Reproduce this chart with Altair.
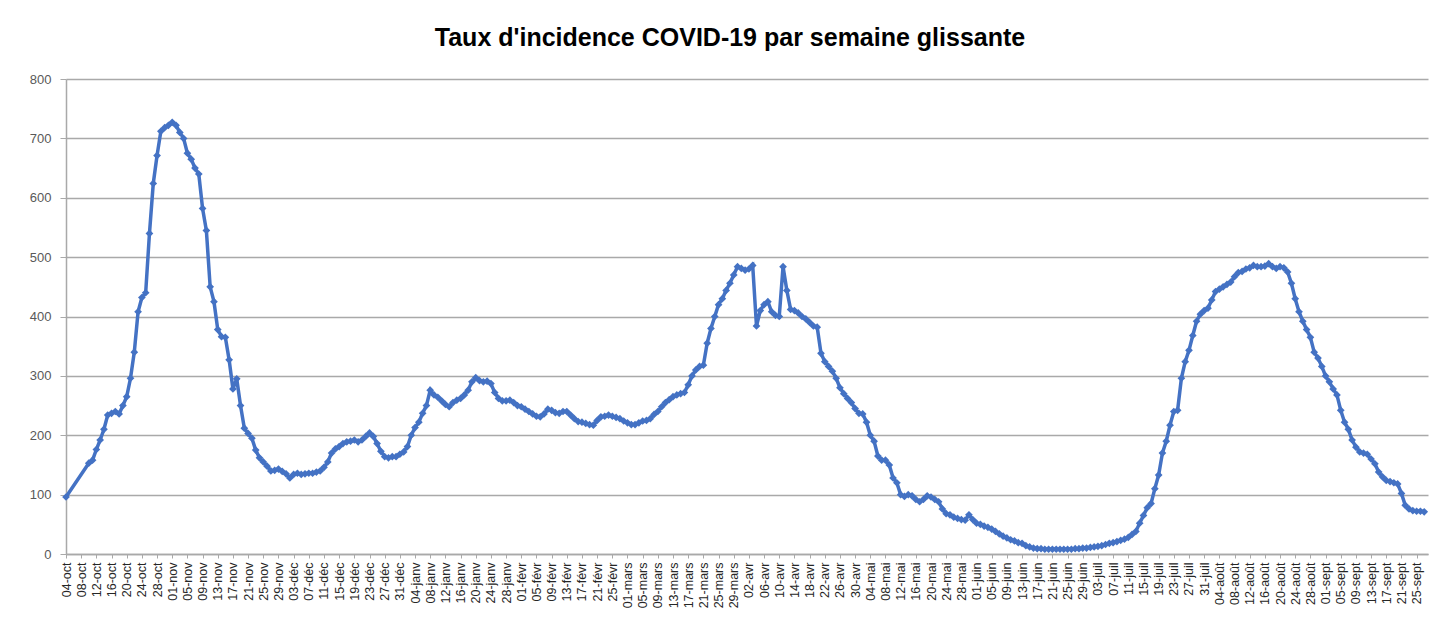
import altair as alt
import pandas as pd

start_date = "2020-10-04"
title_text = "Taux d'incidence COVID-19 par semaine glissante"
month_names = ["janv", "févr", "mars", "avr", "mai", "juin", "juil", "août", "sept", "oct", "nov", "déc"]

# daily incidence values from 04-oct (None = no reported point)
values = [
    96, None, None, None, None, None, 153, 158, 176, 192,
    210, 234, 237, 240, 236, 250, 265, 296, 340, 408,
    432, 440, 540, 624, 671, 712, 718, 722, 727, 722,
    710, 700, 675, 665, 650, 640, 582, 545, 450, 425,
    378, 366, 365, 327, 278, 295, 250, 212, 203, 195,
    175, 162, 155, 148, 140, 141, 143, 139, 135, 128,
    134, 136, 134, 135, 136, 136, 138, 140, 146, 155,
    170, 177, 181, 186, 189, 190, 192, 189, 192, 198,
    204, 198, 186, 173, 164, 162, 164, 164, 168, 172,
    181, 200, 213, 222, 237, 250, 276, 268, 264, 258,
    252, 248, 255, 259, 262, 268, 276, 290, 297, 292,
    290, 291, 287, 272, 262, 258, 258, 259, 255, 250,
    248, 244, 240, 236, 232, 231, 236, 244, 242, 238,
    237, 240, 240, 234, 228, 223, 222, 220, 218, 217,
    225, 231, 232, 234, 232, 230, 228, 224, 221, 218,
    218, 221, 224, 225, 228, 235, 240, 248, 255, 260,
    265, 268, 270, 272, 285, 300, 310, 316, 318, 355,
    380, 400, 420, 430, 444, 456, 470, 484, 481, 478,
    480, 486, 384, 410, 420, 425, 408, 402, 400, 484,
    444, 412, 410, 406, 400, 396, 390, 384, 382, 338,
    324, 316, 308, 296, 280, 270, 262, 255, 245, 237,
    236, 222, 200, 190, 165, 158, 158, 150, 128, 120,
    100, 97, 100, 98, 92, 88, 92, 98, 96, 92,
    88, 76, 68, 66, 62, 60, 58, 57, 66, 58,
    52, 50, 47, 45, 42, 38, 34, 30, 27, 24,
    22, 19, 18, 14, 12, 10, 9, 9, 8, 8,
    8, 8, 8, 8, 8, 8, 9, 9, 10, 10,
    11, 12, 13, 14, 16, 18, 19, 21, 23, 25,
    28, 33, 38, 52, 65, 78, 85, 110, 133, 170,
    190, 217, 240, 242, 296, 324, 343, 368, 392, 404,
    410, 414, 428, 442, 446, 450, 454, 458, 467, 474,
    476, 480, 482, 486, 484, 484, 485, 489, 484, 481,
    484, 482, 475, 456, 430, 408, 392, 378, 365, 340,
    330, 316, 300, 290, 278, 268, 242, 222, 210, 192,
    180, 172, 170, 168, 160, 152, 138, 130, 124, 122,
    120, 118, 102, 82, 76, 73, 72, 72, 71,
]

DAY_MS = 86400000
start = pd.Timestamp(start_date, tz="UTC")
start_ms = int(start.value // 1_000_000)

dates_ms = [start_ms + i * DAY_MS for i in range(len(values))]
df = pd.DataFrame({"t": dates_ms, "value": values}).dropna()

tick_values = [start_ms + i * DAY_MS for i in range(0, 357, 4)]
domain = [start_ms, start_ms + 359 * DAY_MS]

month_js = "[" + ",".join("'" + m + "'" for m in month_names) + "]"
label_expr = "utcFormat(datum.value, '%d') + '-' + " + month_js + "[utcmonth(datum.value)]"

blue = "#4472C4"
grid_gray = "#a9a9a9"

chart = (
    alt.Chart(df)
    .mark_line(
        color=blue,
        strokeWidth=3.5,
        point=alt.OverlayMarkDef(shape="diamond", size=60, filled=True, color=blue),
    )
    .encode(
        x=alt.X(
            "t:T",
            scale=alt.Scale(type="utc", domain=domain),
            axis=alt.Axis(
                title=None,
                values=tick_values,
                labelExpr=label_expr,
                labelAngle=270,
                labelAlign="right",
                labelBaseline="middle",
                labelFontSize=12.5,
                labelColor="#262626",
                labelFont="Liberation Sans",
                labelPadding=4,
                labelOverlap=False,
                labelBound=False,
                labelFlush=False,
                tickSize=4,
                tickColor=grid_gray,
                domainColor=grid_gray,
                domainWidth=1.5,
                grid=False,
            ),
        ),
        y=alt.Y(
            "value:Q",
            scale=alt.Scale(domain=[0, 800], nice=False),
            axis=alt.Axis(
                title=None,
                values=[0, 100, 200, 300, 400, 500, 600, 700, 800],
                labelFontSize=13,
                labelColor="#595959",
                labelFont="Liberation Sans",
                labelPadding=9,
                tickSize=6,
                tickColor=grid_gray,
                domainColor=grid_gray,
                domainWidth=1.5,
                gridColor=grid_gray,
                gridWidth=1.5,
            ),
        ),
    )
    .properties(
        width=1362,
        height=475,
        padding={"left": 58, "top": 71, "right": 1, "bottom": 60},
        autosize=alt.AutoSizeParams(type="none"),
        title=alt.TitleParams(
            text=title_text,
            font="Liberation Sans",
            fontSize=25,
            fontWeight="bold",
            color="#000000",
            anchor="middle",
            dx=-17,
            offset=22,
        ),
        background="white",
    )
    .configure_view(strokeWidth=0)
)

chart.save("out.html", embed_options={"renderer": "svg", "actions": False})
